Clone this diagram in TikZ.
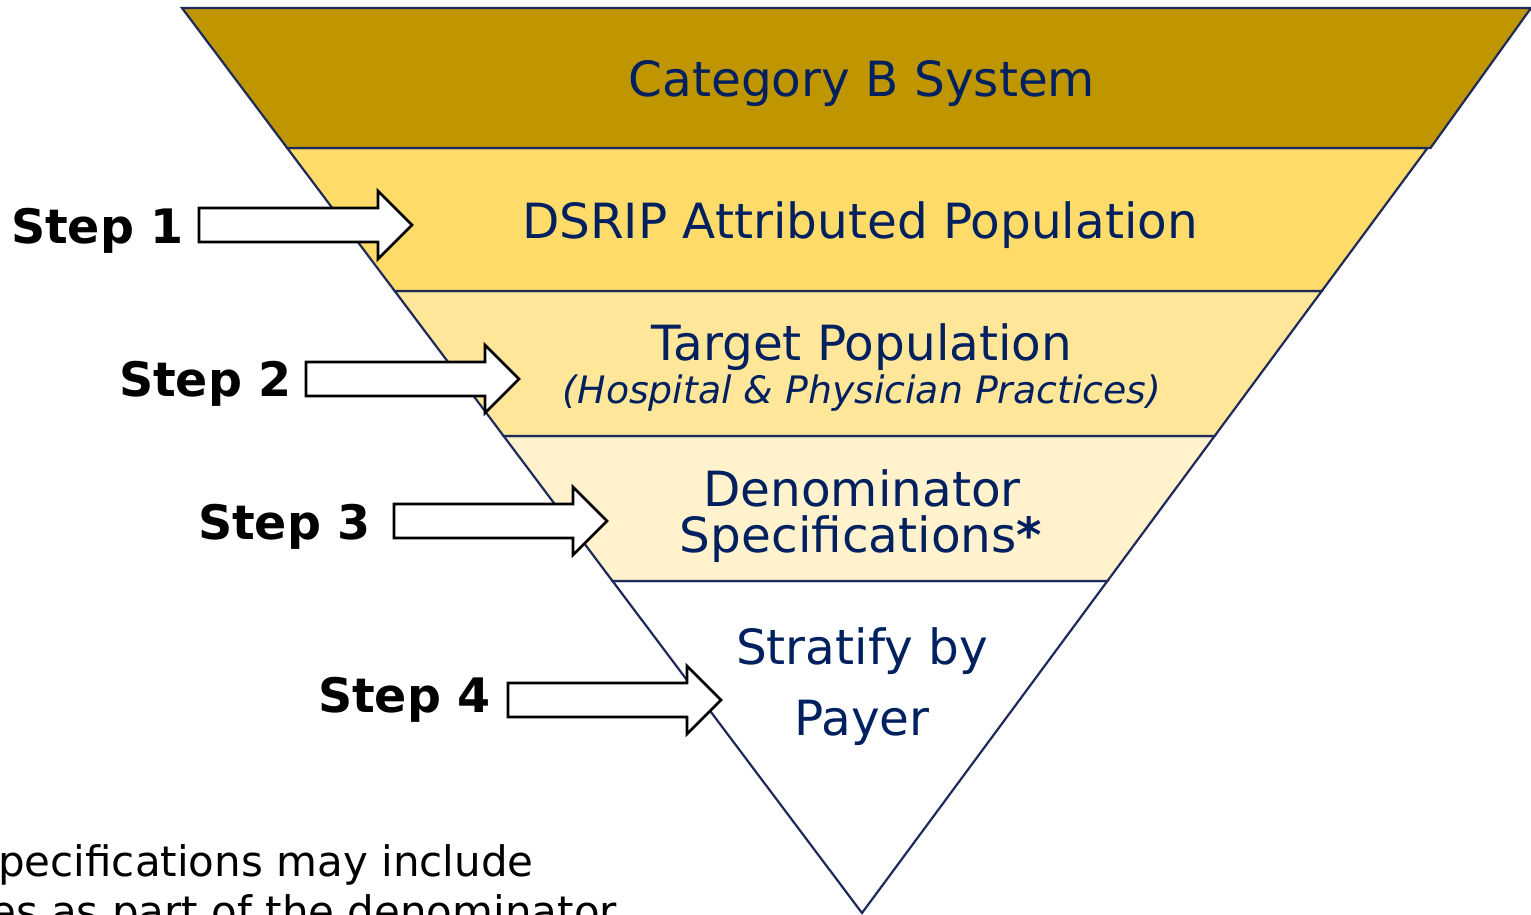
\documentclass[tikz,border=0pt]{standalone}
\usepackage{fontspec}
\setmainfont{DejaVu Sans}
\definecolor{gold1}{HTML}{BF9600}
\definecolor{gold2}{HTML}{FFDB69}
\definecolor{gold3}{HTML}{FFE699}
\definecolor{gold4}{HTML}{FFF2CC}
\definecolor{navytxt}{HTML}{002060}
\definecolor{navyline}{HTML}{1F2A5C}
\tikzset{
  band/.style={draw=navyline, line width=2.2pt, line join=miter},
  bandtext/.style={text=navytxt, font=\fontsize{48.5}{54}\selectfont, inner sep=0pt, anchor=center},
  subtext/.style={text=navytxt, font=\fontsize{37.8}{42}\selectfont\itshape, inner sep=0pt, anchor=center},
  steplabel/.style={text=black, font=\fontsize{47.5}{52}\selectfont\bfseries, inner sep=0pt, anchor=east},
  arrowbox/.style={draw=black, fill=white, line width=2.7pt, line join=miter},
  notetext/.style={text=black, font=\fontsize{42}{48}\selectfont, inner sep=0pt, anchor=west},
  steparrow/.pic={\draw[arrowbox] (-213,-17) -- (-34,-17) -- (-34,-34) -- (0,0) -- (-34,34) -- (-34,17) -- (-213,17) -- cycle;}
}
\begin{document}
\begin{tikzpicture}[x=1pt,y=-1pt]
\useasboundingbox (0,0) rectangle (1531,915);
% bands
\draw[band, fill=white] (612.5,581) -- (1107.4,581) -- (862,913) -- cycle;
\draw[band, fill=gold4] (503.6,436) -- (1214.6,436) -- (1107.4,581) -- (612.5,581) -- cycle;
\draw[band, fill=gold3] (394.7,291) -- (1321.8,291) -- (1214.6,436) -- (503.6,436) -- cycle;
\draw[band, fill=gold2] (287.2,148) -- (1427.5,148) -- (1321.8,291) -- (394.7,291) -- cycle;
\draw[band, fill=gold1] (182,8) -- (1531,8) -- (1430.5,148) -- (287.2,148) -- cycle;
% texts
\node[bandtext] (t1) at (862,84) {Category B System};
\node[bandtext] (t2) at (860,225) {DSRIP Attributed Population};
\node[bandtext] (t3) at (862,347) {Target Population};
\node[subtext] (t3b) at (862,393) {(Hospital \& Physician Practices)};
\node[bandtext] (t4) at (862,488) {Denominator};
\node[bandtext] (t4b) at (861,539) {Specifications\textbf{*}};
\node[bandtext] (t5) at (862,651) {Stratify by};
\node[bandtext] (t5b) at (862,723) {Payer};
% steps
\node[steplabel] (s1) at (184,231) {Step 1};
\node[steplabel] (s2) at (292,384) {Step 2};
\node[steplabel] (s3) at (371,527) {Step 3};
\node[steplabel] (s4) at (491,700) {Step 4};
\pic at (412,225) {steparrow};
\pic at (519,379) {steparrow};
\pic at (607,521) {steparrow};
\pic at (721,700) {steparrow};
% note
\node[notetext] (n1) at (-2,865) {pecifications may include};
\node[notetext] (n2) at (-10,915) {es as part of the denominator};
\end{tikzpicture}
\end{document}
